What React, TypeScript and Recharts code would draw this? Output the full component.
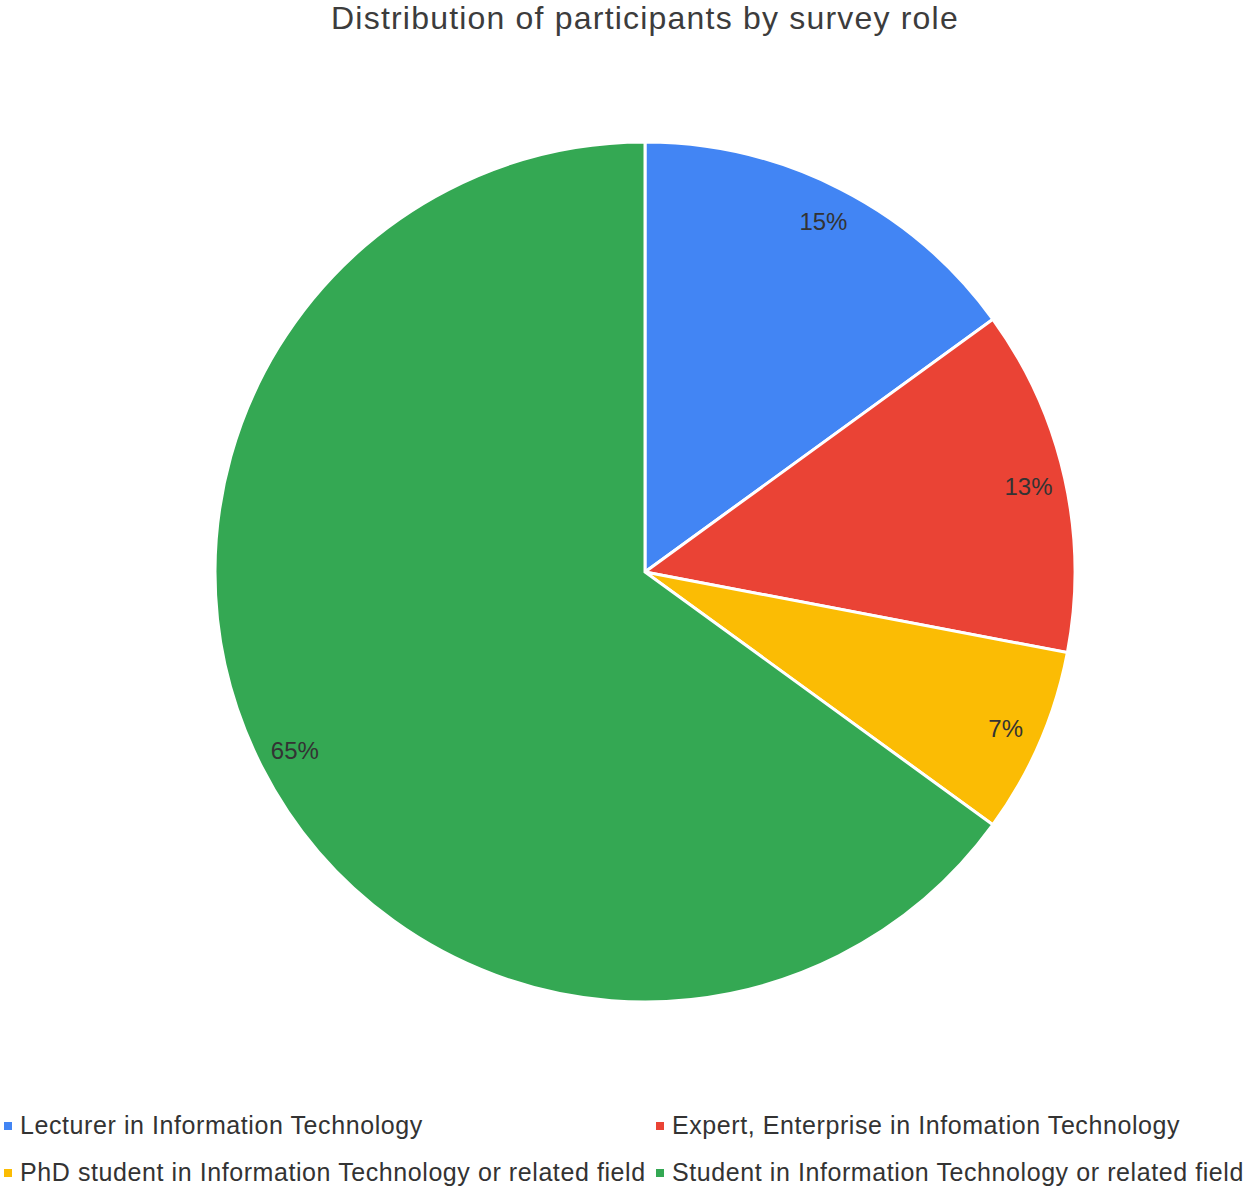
import React from "react";
import { PieChart, Pie, Cell, Legend } from "recharts";

const roles = [
  "Lecturer in Information Technology",
  "Expert, Enterprise in Infomation Technology",
  "PhD student in Information Technology or related field",
  "Student in Information Technology or related field",
];
const shares = [15, 13, 7, 65];
const colors = ["#4285F4", "#EA4335", "#FBBC04", "#34A853"];

const data = roles.map((name, i) => ({ name, value: shares[i] }));

const RADIAN = Math.PI / 180;

const renderLabel = (props: any) => {
  const { cx, cy, midAngle, percent } = props;
  const r = 393;
  const x = cx + r * Math.cos(-midAngle * RADIAN);
  const y = cy + r * Math.sin(-midAngle * RADIAN);
  return (
    <text
      x={x}
      y={y}
      fill="#333333"
      fontSize={24}
      fontFamily="Liberation Sans, Arial, sans-serif"
      textAnchor="middle"
      dominantBaseline="central"
    >
      {`${Math.round(percent * 100)}%`}
    </text>
  );
};

const renderLegend = () => (
  <div
    style={{
      display: "grid",
      gridTemplateColumns: "652px 594px",
      rowGap: 22,
      fontFamily: "Liberation Sans, Arial, sans-serif",
      fontSize: 25,
      letterSpacing: 0.58,
      color: "#333333",
      paddingLeft: 4,
    }}
  >
    {roles.map((name, i) => (
      <div key={name} style={{ display: "flex", alignItems: "center", height: 25, whiteSpace: "nowrap" }}>
        <span style={{ width: 8, height: 8, background: colors[i], marginRight: 8, display: "inline-block", flexShrink: 0 }} />
        {name}
      </div>
    ))}
  </div>
);

export default function App() {
  return (
    <div style={{ position: "absolute", left: 0, top: 0, width: 1250, height: 1194, background: "#fff", overflow: "hidden" }}>
      <div
        style={{
          position: "absolute",
          top: 0,
          left: 0,
          width: 1290,
          textAlign: "center",
          fontFamily: "Liberation Sans, Arial, sans-serif",
          fontSize: 32,
          letterSpacing: 1.2,
          color: "#3c3c3c",
          lineHeight: "36px",
          whiteSpace: "nowrap",
        }}
      >
        Distribution of participants by survey role
      </div>
      <PieChart width={1250} height={1194} margin={{ top: 0, right: 0, bottom: 0, left: 0 }}>
        <Pie
          data={data}
          dataKey="value"
          nameKey="name"
          cx={645}
          cy={572}
          outerRadius={430}
          startAngle={90}
          endAngle={-270}
          stroke="#ffffff"
          strokeWidth={3}
          label={renderLabel}
          labelLine={false}
          isAnimationActive={false}
        >
          {data.map((d, i) => (
            <Cell key={d.name} fill={colors[i]} />
          ))}
        </Pie>
        <Legend
          content={renderLegend}
          wrapperStyle={{ position: "absolute", top: 1113, left: 0, width: 1250 }}
        />
      </PieChart>
    </div>
  );
}
